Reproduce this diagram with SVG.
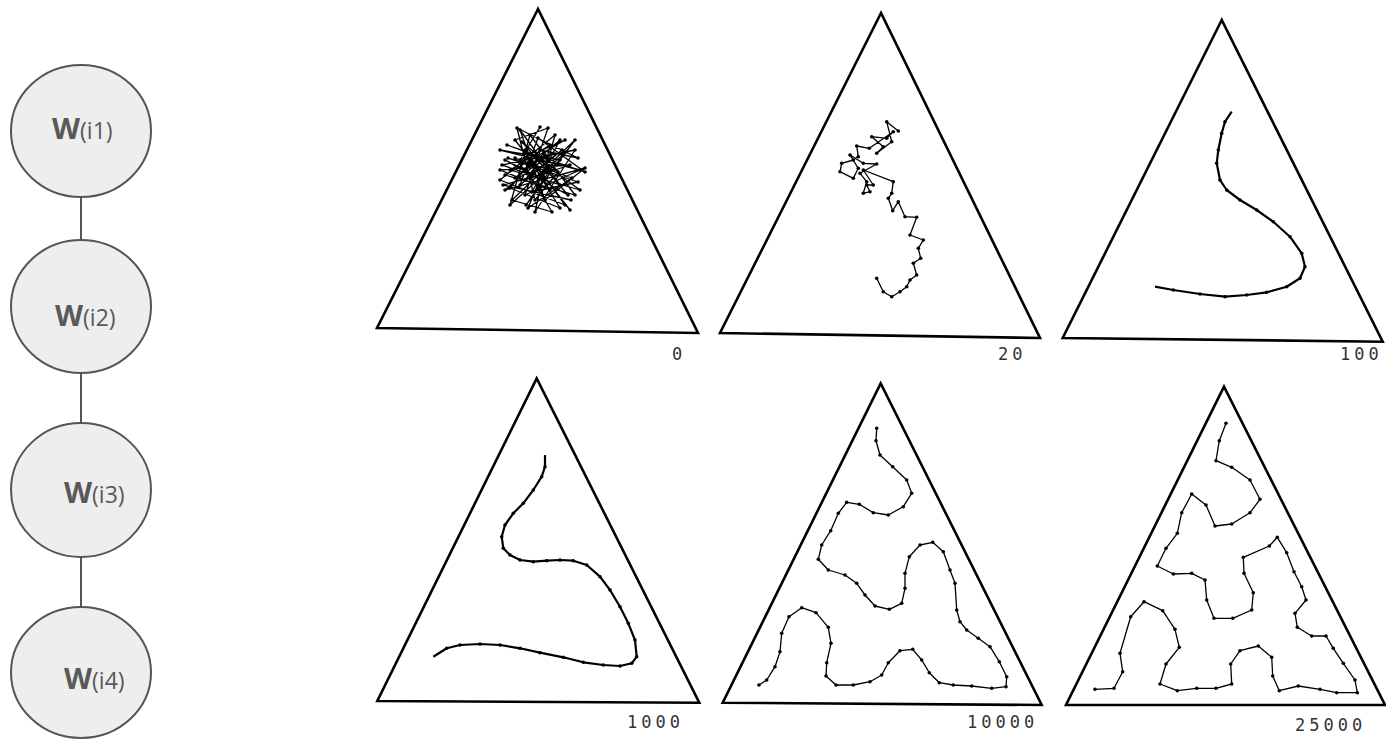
<svg xmlns="http://www.w3.org/2000/svg" width="1386" height="740" viewBox="0 0 1386 740">
<style>
.node ellipse{fill:#eeeeee;stroke:#555555;stroke-width:2}
.conn line{stroke:#555555;stroke-width:2}
.lbl{font-family:"Open Sans","Liberation Sans",Arial,sans-serif;fill:#595959}
.big{font-size:29px;font-weight:bold}
.small{font-size:23px}
.tri{fill:none;stroke:#000;stroke-width:2.6;stroke-linejoin:miter}
.walk{fill:none;stroke:#000;stroke-width:1.3;stroke-linejoin:round;marker-start:url(#dot);marker-mid:url(#dot);marker-end:url(#dot)}
.curve{fill:none;stroke:#000;stroke-width:2.2;stroke-linejoin:round;marker-mid:url(#dot)}
.num{font-family:"DejaVu Sans Mono","Liberation Mono",monospace;font-size:17px;fill:#333;letter-spacing:4px}
</style>
<defs>
<marker id="dot" markerUnits="userSpaceOnUse" markerWidth="6" markerHeight="6" refX="3" refY="3" viewBox="0 0 6 6">
<circle cx="3" cy="3" r="1.8" fill="#000"/>
</marker>
</defs>

<g id="connectors" class="conn">
<line x1="81" y1="197" x2="81" y2="240"/>
<line x1="81" y1="373" x2="81" y2="423"/>
<line x1="81" y1="557" x2="81" y2="607"/>
</g>

<g id="node-w-i1" class="node">
<ellipse cx="81" cy="131" rx="70" ry="66"/>
<text class="lbl" x="52" y="139"><tspan class="big">W</tspan><tspan class="small">(i1)</tspan></text>
</g>
<g id="node-w-i2" class="node">
<ellipse cx="81" cy="306.5" rx="70" ry="66.5"/>
<text class="lbl" x="55" y="326"><tspan class="big">W</tspan><tspan class="small">(i2)</tspan></text>
</g>
<g id="node-w-i3" class="node">
<ellipse cx="81" cy="490" rx="70" ry="67"/>
<text class="lbl" x="64" y="503"><tspan class="big">W</tspan><tspan class="small">(i3)</tspan></text>
</g>
<g id="node-w-i4" class="node">
<ellipse cx="81" cy="672.5" rx="70" ry="65.5"/>
<text class="lbl" x="64" y="689"><tspan class="big">W</tspan><tspan class="small">(i4)</tspan></text>
</g>

<g id="panel-0">
<polygon class="tri" points="538,9 377,328 698,333"/>
<polyline class="walk" points="540,127 520,160 565,140 505,175 575,195 530,135 510,205 560,160 500,150 580,170 525,195 548,128 515,140 570,210 535,165 505,190 585,168 545,200 520,130 560,185 502,165 575,150 535,212 550,145 510,170 580,190 525,150 565,205 500,180 555,135 540,190 515,158 572,178 528,208 548,160 507,145 585,172 538,138 520,185 562,150 530,175 552,212 512,200 575,140 545,180 505,160 568,195 522,142 558,172 535,200 517,128 578,158 540,150 510,188 560,208 530,160 550,190 500,170 570,165 525,180 545,155 515,178 560,140 532,192 578,182 508,158 550,170 526,205 566,152 540,175 503,185 571,200"/>
<text class="num" x="672" y="360">0</text>
</g>

<g id="panel-20">
<polygon class="tri" points="881,13 720,333 1040,338"/>
<polyline class="walk" points="898.3,131 886.7,121.7 891.7,141.7 876.7,153.3 883.3,146.7 871.7,136.7 886.7,138.3 893.3,131.7 869.3,148.3 856.7,146 858.3,156.7 853.3,160 841.7,163.3 840,171.7 853.3,178.3 858.3,168.3 850,155 863.3,163.3 876.7,164 860,173.3 866.7,181.7 863.3,193.3 870,191.7 866.7,185 873.3,185 863.3,170 893.3,181.7 891.7,193.3 888.3,198.3 892.7,210.7 898.3,201.7 905,216.7 916.7,217.3 910,235 923.3,240 918.3,248.3 920.7,258.3 913.3,263.3 916.7,275 910,280 906.7,286.7 900,291.7 891.7,296.7 883.3,291.7 876.7,278.3"/>
<text class="num" x="998" y="360">20</text>
</g>

<g id="panel-100">
<polygon class="tri" points="1221.7,20 1062.7,338 1382.7,341.7"/>
<polyline class="curve" points="1231.7,111.7 1225,121.7 1221.7,133.3 1218.3,150 1216.7,163.3 1220,180 1226.7,190 1240,200 1256.7,210 1273.3,221.7 1290,236.7 1301.7,253.3 1305,266.7 1300,278.3 1286.7,286.7 1266.7,292.3 1246.7,295 1225,296.7 1200,294 1173.3,290 1155,286.7"/>
<text class="num" x="1340" y="360">100</text>
</g>

<g id="panel-1000">
<polygon class="tri" points="536.7,378.3 377.3,701 699.3,702.7"/>
<polyline class="curve" points="545,455 545,466.7 541.7,476.7 533.3,490 523.3,503.3 513.3,513.3 505,525 501.7,536.7 503.3,548.3 510,555 520,560 533.3,561.7 546.7,560.7 560,560 573.3,560.7 586.7,565 600,576.7 610,590 620,606.7 628.3,623.3 635,640 636.7,656.7 631.7,663.3 620,666 603.3,665 583.3,662.3 563.3,657.3 540,652.7 520,648.3 500,645 480,644 460,645 446.7,648.3 433.3,656.7"/>
<text class="num" x="627" y="728">1000</text>
</g>

<g id="panel-10000">
<polygon class="tri" points="880.7,383.3 722.7,702.7 1041.7,705"/>
<polyline class="walk" points="876.7,428.3 876,440.7 880,455 892.7,466.7 906.7,480 911.7,493.3 903.3,506.7 888.3,515 873.3,512.7 859.3,504.3 846.7,502.3 838.3,513.3 830.7,530.7 821.7,545 818.3,559.3 828.3,570 845,575 856.7,583.3 865,595 875,606 889.3,609.3 901.7,603.3 905,588.3 905,573.3 909.3,556.7 920,545 932.7,542.3 943.3,551.7 950,570 955,583.3 956.7,610 960,621.7 966.7,630 978.3,638.3 990,646.7 999.3,661.7 1006.7,676.7 1006,686.7 991.7,688.3 971.7,686 953.3,685 939.3,682.7 929.3,672.7 921.7,660 912.7,649.3 900,650.7 888.3,662.7 881.7,675 870,681.7 853.3,685 836,685 826,676 826.7,662.7 831,643.3 828.3,627.3 816,612.7 801.7,607.7 789,616.7 781.7,633.3 780,651.7 775,666.7 766.7,680 759,685"/>
<text class="num" x="967" y="728">10000</text>
</g>

<g id="panel-25000">
<polygon class="tri" points="1224,386.7 1066,705 1385,705"/>
<polyline class="walk" points="1226,423.3 1219.3,440.7 1216,460.7 1231.7,467.3 1250,480 1260,499.3 1250,512.7 1231.7,524 1215,526 1206,505 1191.7,494 1181.7,512.7 1177.3,533.3 1166,548.3 1157.3,566 1173.3,574 1191.7,573.3 1205,580 1206.7,600 1214,618.3 1232.7,618.3 1251.7,610 1253.3,592.7 1244,573.3 1243.3,557.3 1269.3,546 1277.3,537.3 1286.7,552.7 1294,571.7 1301.7,586.7 1306,600 1295,613.3 1297.3,627.3 1311.7,636 1326,636 1333.3,648.3 1343.3,663.3 1355,680 1357.3,692.7 1336.7,692.7 1320,689.3 1298.3,686 1279.3,690.7 1272.7,676 1271.7,657.3 1258.3,646 1240,650.7 1230.7,664 1231.7,684 1216,688.3 1196.7,688.3 1177.3,690.7 1160,684 1166,664 1179.3,647.3 1175,629.3 1162.7,610.7 1144,601.7 1130.7,616.7 1120,653.3 1122.7,671.7 1114,688.3 1095,689.3"/>
<text class="num" x="1295" y="731">25000</text>
</g>
</svg>
